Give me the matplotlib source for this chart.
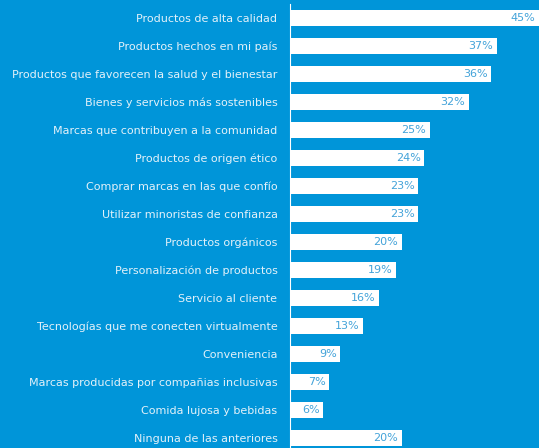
import matplotlib.pyplot as plt

# share of respondents choosing each option
categorias = [
    "Productos de alta calidad",
    "Productos hechos en mi país",
    "Productos que favorecen la salud y el bienestar",
    "Bienes y servicios más sostenibles",
    "Marcas que contribuyen a la comunidad",
    "Productos de origen ético",
    "Comprar marcas en las que confío",
    "Utilizar minoristas de confianza",
    "Productos orgánicos",
    "Personalización de productos",
    "Servicio al cliente",
    "Tecnologías que me conecten virtualmente",
    "Conveniencia",
    "Marcas producidas por compañias inclusivas",
    "Comida lujosa y bebidas",
    "Ninguna de las anteriores",
]
porcentajes = [45, 37, 36, 32, 25, 24, 23, 23, 20, 19, 16, 13, 9, 7, 6, 20]

fondo = "#0095d9"
texto = "#e3f1f9"
azul = "#43a3d9"

fig = plt.figure(figsize=(5.39, 4.48), dpi=100, facecolor=fondo)
ax = fig.add_axes([290 / 539, 0, 249 / 539, 444 / 448])
ax.set_facecolor(fondo)

y = list(range(len(categorias)))
bars = ax.barh(y, porcentajes, height=0.57, color="white")

ax.set_xlim(0, 44.6)
ax.set_ylim(15.36, -0.5)
ax.set_yticks(y)
ax.set_yticklabels(categorias, color=texto, fontsize=8, fontfamily="DejaVu Sans")
ax.tick_params(axis="y", length=0, pad=9)
ax.set_xticks([])

for s in ["top", "right", "bottom"]:
    ax.spines[s].set_visible(False)
ax.spines["left"].set_color("white")
ax.spines["left"].set_linewidth(0.8)

# value labels sit inside the right end of each bar
for b, v in zip(bars, porcentajes):
    x_end = min(b.get_width(), 44.6)
    ax.annotate(f"{v}%", (x_end, b.get_y() + b.get_height() / 2),
                xytext=(-2.5, 0), textcoords="offset points",
                ha="right", va="center", color=azul, fontsize=8)

fig.savefig("out.png", dpi=100, facecolor=fondo)
